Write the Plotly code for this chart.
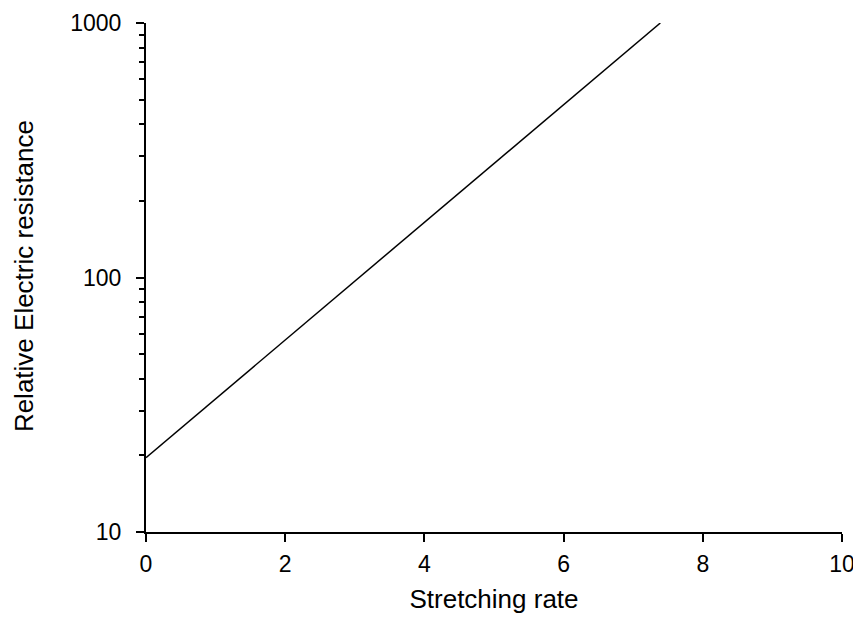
import plotly.graph_objects as go

stretching_rate = [0, 7.39]
resistance = [19.6, 1000]
x_ticks = [0, 2, 4, 6, 8, 10]
y_ticks = [10, 100, 1000]
y_minor = [20, 30, 40, 50, 60, 70, 80, 90, 200, 300, 400, 500, 600, 700, 800, 900]
x_title = "Stretching rate"
y_title = "Relative Electric resistance"

fig = go.Figure()
fig.add_trace(go.Scatter(x=stretching_rate, y=resistance, mode="lines",
                         line=dict(color="black", width=1.5), showlegend=False))

font = "Liberation Sans, Arial, sans-serif"
fig.update_layout(
    width=853, height=609,
    margin=dict(l=138, r=19, t=15, b=85),
    paper_bgcolor="white", plot_bgcolor="white",
    font=dict(family=font, color="black"),
)
fig.update_xaxes(
    range=[0, 10], tickvals=x_ticks, ticktext=[str(v) for v in x_ticks],
    showline=True, linecolor="black", linewidth=2, showgrid=False, zeroline=False,
    ticks="outside", ticklen=8, tickwidth=2, tickcolor="black",
    tickfont=dict(size=23, family=font), ticklabelstandoff=2,
    automargin=False, ticklabeloverflow="allow",
    title=dict(text=x_title, font=dict(size=26, family=font), standoff=14),
)
fig.update_yaxes(
    type="log", range=[1, 3], tickvals=y_ticks, ticktext=[str(v) for v in y_ticks],
    showline=True, linecolor="black", linewidth=2, showgrid=False, zeroline=False,
    ticks="outside", ticklen=8, tickwidth=2, tickcolor="black",
    tickfont=dict(size=23, family=font), ticklabelstandoff=10,
    automargin=False, ticklabeloverflow="allow",
    minor=dict(tickvals=y_minor, ticks="outside", ticklen=5, tickwidth=2,
               tickcolor="black", showgrid=False),
)
# y-axis title placed as rotated text in the left margin
fig.add_annotation(text=y_title, xref="paper", yref="paper",
                   x=-0.1753, y=0.5027, xanchor="center", yanchor="middle",
                   textangle=-90, showarrow=False,
                   font=dict(size=26, family=font, color="black"))
fig.write_html("out.html")
